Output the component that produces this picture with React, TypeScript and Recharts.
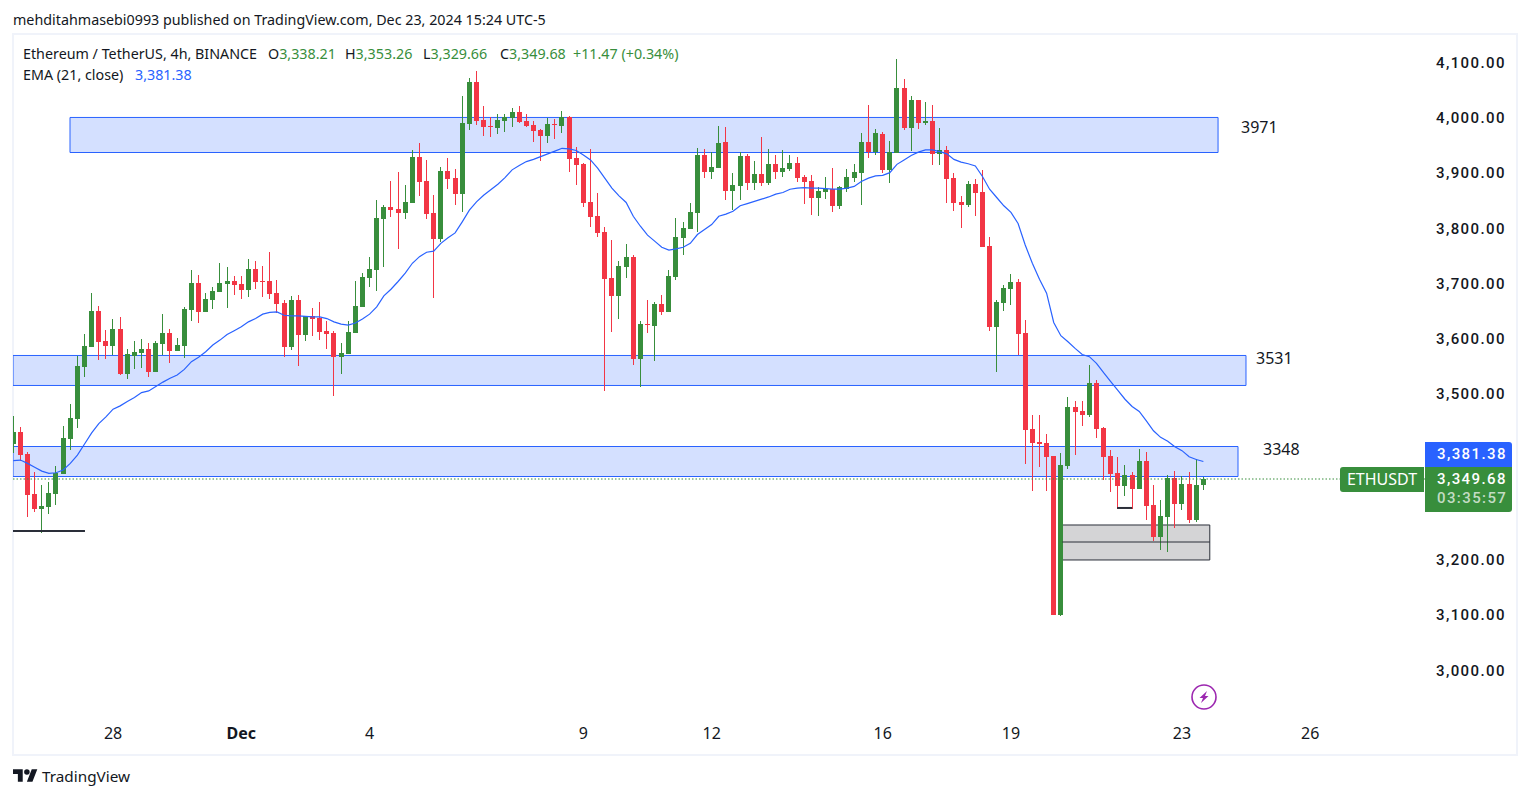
import React from "react";
import { ComposedChart, Bar, Line, XAxis, YAxis, ReferenceArea, ReferenceLine } from "recharts";

const opens = [3413,3435,3395,3322,3295,3299,3322,3359,3422,3458,3552,3588,3654,3599,3590,3621,3540,3573,3578,3585,3543,3594,3614,3581,3590,3655,3704,3652,3673,3688,3702,3708,3702,3692,3730,3708,3708,3686,3668,3589,3674,3610,3645,3641,3617,3614,3570,3576,3614,3661,3713,3728,3820,3842,3838,3831,3849,3932,3889,3831,3784,3907,3894,3865,3992,4068,3999,3988,3985,3997,4003,4014,3997,3990,3981,3970,3992,3988,4005,3930,3920,3851,3826,3797,3713,3681,3733,3751,3567,3630,3627,3666,3652,3715,3786,3802,3831,3936,3905,3912,3959,3871,3880,3934,3885,3902,3885,3920,3905,3911,3921,3896,3889,3858,3869,3874,3844,3874,3894,3903,3959,3941,3974,3909,3939,4057,3985,4035,3994,3997,3938,3945,3894,3851,3845,3883,3869,3771,3625,3668,3693,3706,3614,3440,3417,3415,3391,3104,3373,3480,3473,3466,3523,3442,3391,3361,3337,3357,3332,3382,3303,3245,3281,3352,3305,3341,3276,3338.21];
const highs = [3464,3444,3398,3362,3339,3344,3373,3445,3485,3572,3612,3686,3663,3619,3639,3643,3585,3599,3603,3596,3599,3648,3621,3605,3661,3728,3719,3686,3697,3740,3733,3717,3717,3748,3744,3735,3760,3710,3674,3681,3683,3645,3659,3670,3636,3617,3596,3636,3708,3722,3751,3854,3845,3889,3905,3882,3945,3958,3927,3864,3914,3930,3911,4043,4075,4088,4024,4005,4010,4010,4021,4024,4010,3997,3983,4003,4001,4015,4006,3950,3921,3947,3867,3806,3782,3744,3775,3755,3636,3674,3670,3683,3728,3822,3815,3849,3948,3947,3941,3988,3986,3903,3941,3938,3925,3968,3947,3936,3945,3936,3932,3900,3900,3878,3896,3912,3880,3911,3920,3976,4026,3983,3977,3961,4110,4073,4043,4035,4032,4026,3985,3952,3903,3862,3889,3892,3909,3788,3674,3701,3721,3712,3637,3466,3466,3431,3391,3397,3498,3491,3491,3556,3529,3444,3402,3390,3375,3362,3404,3399,3339,3312,3357,3364,3355,3362,3386,3353.26];
const lows = [3396,3382,3281,3290,3252,3286,3303,3359,3402,3442,3534,3588,3565,3567,3574,3538,3531,3549,3550,3534,3543,3574,3560,3581,3569,3636,3632,3652,3657,3688,3659,3682,3675,3679,3693,3679,3675,3650,3570,3583,3554,3599,3608,3601,3585,3500,3540,3576,3614,3661,3697,3690,3733,3824,3766,3820,3849,3862,3820,3677,3778,3874,3845,3833,3981,3990,3970,3968,3974,3977,3986,3994,3986,3959,3925,3958,3965,3976,3905,3882,3842,3806,3788,3509,3616,3639,3713,3556,3516,3614,3563,3646,3652,3710,3755,3802,3797,3894,3892,3912,3854,3836,3854,3873,3873,3880,3882,3892,3896,3907,3887,3847,3827,3826,3856,3833,3838,3869,3887,3845,3930,3936,3903,3885,3939,3981,3943,3983,3990,3918,3918,3849,3835,3804,3842,3826,3769,3617,3543,3654,3665,3574,3377,3328,3371,3328,3104,3102,3368,3393,3446,3462,3424,3348,3326,3296,3319,3296,3332,3276,3238,3221,3218,3261,3294,3270,3272,3329.66];
const closes = [3435,3393,3321,3295,3301,3324,3360,3424,3460,3554,3590,3654,3597,3590,3621,3540,3576,3579,3585,3543,3596,3614,3581,3592,3657,3704,3652,3675,3690,3704,3708,3701,3692,3730,3706,3706,3684,3666,3589,3674,3610,3645,3639,3616,3612,3570,3578,3616,3663,3715,3730,3822,3842,3836,3831,3851,3932,3887,3829,3784,3907,3892,3865,3994,4068,3997,3986,3986,3999,4004,4014,3995,3988,3979,3970,3992,3990,4005,3929,3918,3849,3824,3795,3712,3681,3735,3751,3567,3630,3628,3666,3652,3717,3788,3804,3833,3936,3905,3914,3958,3871,3882,3934,3885,3902,3885,3920,3905,3912,3921,3894,3887,3858,3871,3874,3844,3878,3896,3905,3959,3941,3976,3909,3941,4057,3985,4035,3994,3997,3938,3945,3892,3849,3845,3883,3867,3769,3625,3670,3695,3706,3612,3438,3415,3413,3390,3104,3375,3480,3471,3466,3523,3440,3390,3359,3337,3357,3332,3382,3301,3245,3283,3352,3305,3341,3276,3338,3349.68];
const ema21 = [3383,3384,3378,3371,3364,3360,3361,3366,3378,3393,3413,3433,3450,3462,3476,3482,3490,3497,3506,3509,3517,3525,3532,3538,3548,3562,3570,3580,3592,3601,3611,3618,3625,3634,3640,3648,3651,3652,3646,3645,3645,3644,3643,3643,3640,3634,3630,3628,3632,3639,3648,3661,3681,3693,3707,3722,3740,3752,3760,3762,3776,3786,3795,3815,3836,3851,3863,3873,3883,3895,3909,3917,3924,3928,3933,3938,3943,3948,3947,3944,3936,3927,3912,3894,3876,3862,3850,3825,3807,3791,3780,3769,3764,3766,3769,3776,3792,3801,3810,3825,3829,3834,3844,3848,3852,3856,3860,3865,3868,3874,3876,3877,3876,3876,3875,3874,3874,3876,3879,3888,3894,3898,3899,3904,3919,3927,3935,3941,3945,3945,3942,3938,3928,3923,3920,3916,3897,3874,3859,3844,3832,3812,3773,3740,3711,3686,3633,3609,3598,3586,3575,3571,3559,3542,3526,3510,3494,3481,3472,3455,3437,3425,3418,3408,3401,3390,3385,3381.38];

const priceTicks = [3000,3100,3200,3500,3600,3700,3800,3900,4000,4100];
const timeTickIdx = [14,32,50,80,98,122,140,164,182];
const timeTickText = ["28","Dec","4","9","12","16","19","23","26"];

const GREEN = "#388e3c";
const RED = "#f23645";
const BLUE = "#2962ff";
const ZONE_FILL = "rgba(41,98,255,0.2)";
const FONT = "'Noto Sans', Roboto, sans-serif";
const NUM_FONT = "Roboto, 'Liberation Sans', sans-serif";

const candles = opens.map((o, i) => ({
  i, open: o, close: closes[i], range: [lows[i], highs[i]] as [number, number], ema: ema21[i],
}));

const XMIN = -0.04, XMAX = 198.1;
const YMIN = 2917.3, YMAX = 4153;

function Candle(props: any) {
  const { x, y, width, height, payload } = props;
  const [lo, hi] = payload.range;
  const pxPerUnit = hi > lo ? height / (hi - lo) : 0;
  const yOf = (v: number) => y + (hi - v) * pxPerUnit;
  const up = payload.close >= payload.open;
  const color = up ? GREEN : RED;
  const top = yOf(Math.max(payload.open, payload.close));
  const bot = yOf(Math.min(payload.open, payload.close));
  const cx = Math.round(x + width / 2 - 0.5);
  return (
    <g shapeRendering="crispEdges">
      <rect x={cx} y={y} width={1} height={Math.max(height, 1)} fill={color} />
      <rect x={cx - 2} y={top} width={5} height={Math.max(bot - top, 1)} fill={color} />
    </g>
  );
}

function TimeTick(props: any) {
  const { x, y, payload } = props;
  const k = timeTickIdx.indexOf(payload.value);
  const label = timeTickText[k];
  return (
    <text x={x} y={y + 9} textAnchor="middle" dominantBaseline="middle" fontFamily={FONT}
      fontSize={16} fontWeight={label === "Dec" ? 700 : 400} fill="#131722">{label}</text>
  );
}

function PriceTick(props: any) {
  const { y, payload } = props;
  return (
    <text x={1436} y={y - 0.5} textAnchor="start" dominantBaseline="middle" fontFamily={NUM_FONT}
      fontSize={15} fontWeight={500} letterSpacing={1.4} fill="#131722">
      {payload.value.toLocaleString("en-US", { minimumFractionDigits: 2 })}
    </text>
  );
}

const abs = (s: React.CSSProperties): React.CSSProperties => ({
  position: "absolute", fontFamily: FONT, whiteSpace: "nowrap", ...s,
});
const legend = (left: number, top: number, color: string): React.CSSProperties =>
  abs({ left, top, fontSize: 14.3, lineHeight: "20px", color });
const tag: React.CSSProperties = { fontFamily: NUM_FONT, fontSize: 15, lineHeight: "20px", fontWeight: 500, letterSpacing: 1.4 };

export default function App() {
  return (
    <div style={{ position: "absolute", left: 0, top: 0, width: 1529, height: 798, background: "#fff", overflow: "hidden" }}>
      <div style={{ position: "absolute", left: 12, top: 33, width: 1502, height: 719, border: "2px solid #f0f3fa" }} />
      <div style={abs({ left: 13, top: 10, fontSize: 14.3, lineHeight: "20px", color: "#131722" })}>
        mehditahmasebi0993 published on TradingView.com, Dec 23, 2024 15:24 UTC-5
      </div>

      <ComposedChart width={1529} height={798} data={candles} style={{ position: "absolute", left: 0, top: 0 }}
        margin={{ left: 13, top: 35, right: 0, bottom: 45 }}>
        <XAxis dataKey="i" type="number" domain={[XMIN, XMAX]} allowDataOverflow ticks={timeTickIdx}
          height={35} axisLine={false} tickLine={false} tick={<TimeTick />} interval={0} />
        <YAxis orientation="right" type="number" domain={[YMIN, YMAX]} allowDataOverflow ticks={priceTicks}
          width={104} axisLine={false} tickLine={false} tick={<PriceTick />} interval={0} />

        <ReferenceArea x1={7.96} x2={169.06} y1={3940.4} y2={4003.8} fill={ZONE_FILL} fillOpacity={1} stroke={BLUE} strokeWidth={1} ifOverflow="hidden" />
        <ReferenceArea x1={XMIN} x2={172.98} y1={3518.9} y2={3573.2} fill={ZONE_FILL} fillOpacity={1} stroke={BLUE} strokeWidth={1} ifOverflow="hidden" />
        <ReferenceArea x1={XMIN} x2={171.86} y1={3354.2} y2={3408.5} fill={ZONE_FILL} fillOpacity={1} stroke={BLUE} strokeWidth={1} ifOverflow="hidden" />
        <ReferenceArea x1={147.2} x2={167.9} y1={3203.2} y2={3266.5} fill="#d4d4d6" fillOpacity={1} stroke="#2a2e39" strokeWidth={1} ifOverflow="hidden" />
        <ReferenceLine segment={[{ x: 147.2, y: 3235.7 }, { x: 167.9, y: 3235.7 }]} stroke="#2a2e39" strokeWidth={1} />
        <ReferenceLine segment={[{ x: XMIN, y: 3255.7 }, { x: 10.06, y: 3255.7 }]} stroke="#2a2e39" strokeWidth={2} />
        <ReferenceLine segment={[{ x: 154.9, y: 3297.3 }, { x: 157, y: 3297.3 }]} stroke="#2a2e39" strokeWidth={2} />
        <ReferenceLine segment={[{ x: XMIN, y: 3349.68 }, { x: XMAX, y: 3349.68 }]} stroke={GREEN} strokeWidth={1} strokeDasharray="1.5 2" />

        <Bar dataKey="range" barSize={5} shape={<Candle />} isAnimationActive={false} />
        <Line dataKey="ema" type="linear" stroke={BLUE} strokeWidth={1.2} dot={false} activeDot={false} isAnimationActive={false} />
      </ComposedChart>

      <div style={legend(23, 44, "#131722")}>Ethereum / TetherUS, 4h, BINANCE</div>
      <div style={legend(268, 44, "#131722")}>O<span style={{ color: GREEN }}>3,338.21</span></div>
      <div style={legend(345, 44, "#131722")}>H<span style={{ color: GREEN }}>3,353.26</span></div>
      <div style={legend(423, 44, "#131722")}>L<span style={{ color: GREEN }}>3,329.66</span></div>
      <div style={legend(500, 44, "#131722")}>C<span style={{ color: GREEN }}>3,349.68</span></div>
      <div style={legend(573, 44, GREEN)}>+11.47 (+0.34%)</div>
      <div style={legend(23, 65, "#131722")}>EMA (21, close)</div>
      <div style={legend(135, 65, BLUE)}>3,381.38</div>

      <div style={abs({ left: 1241, top: 116, fontSize: 16, color: "#131722" })}>3971</div>
      <div style={abs({ left: 1256, top: 347, fontSize: 16, color: "#131722" })}>3531</div>
      <div style={abs({ left: 1263, top: 438, fontSize: 16, color: "#131722" })}>3348</div>

      <div style={abs({ left: 1340, top: 467, width: 84, height: 25, lineHeight: "25px", background: GREEN, color: "#fff", fontSize: 16, textAlign: "center", borderRadius: "3px 0 0 3px" })}>ETHUSDT</div>
      <div style={abs({ left: 1425, top: 442, width: 87, height: 25, background: BLUE, borderRadius: "0 3px 0 0" })} />
      <div style={abs({ left: 1425, top: 467, width: 87, height: 45, background: GREEN, borderRadius: "0 0 3px 0" })} />
      <div style={abs({ left: 1437, top: 444, color: "#fff", ...tag })}>3,381.38</div>
      <div style={abs({ left: 1437, top: 469, color: "#fff", ...tag })}>3,349.68</div>
      <div style={abs({ left: 1437, top: 488, color: "#c3dcc4", ...tag })}>03:35:57</div>

      <svg style={{ position: "absolute", left: 1190, top: 683 }} width={28} height={28} viewBox="0 0 28 28">
        <circle cx={14} cy={14} r={12} fill="none" stroke="#9c27b0" strokeWidth={1.6} />
        <path d="M17 8 L9.5 15 H13 L11 20 L18.5 13 H15 Z" fill="#9c27b0" />
      </svg>

      <svg style={{ position: "absolute", left: 13, top: 769 }} width={25} height={13} viewBox="0 0 36 18">
        <path d="M14 18H7V7H0V0h14v18zM28 18h-8l7-18h8l-7 18z" fill="#131722" />
        <circle cx={20} cy={4} r={4} fill="#131722" />
      </svg>
      <div style={abs({ left: 42, top: 766, fontSize: 15.3, lineHeight: "20px", color: "#131722" })}>TradingView</div>
    </div>
  );
}
